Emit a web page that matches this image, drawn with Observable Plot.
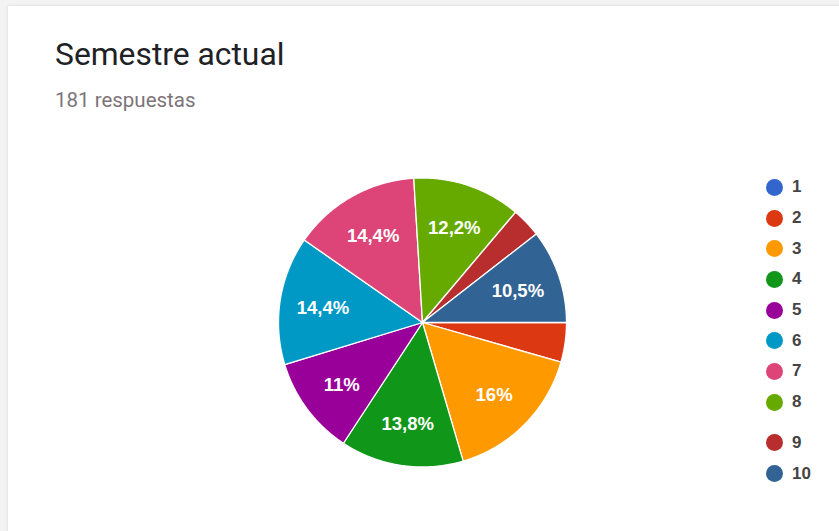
<!DOCTYPE html>
<html>
<head>
<meta charset="utf-8">
<script src="https://cdn.jsdelivr.net/npm/d3@7"></script>
<script src="https://cdn.jsdelivr.net/npm/@observablehq/plot@0.6"></script>
<style>
  html, body { margin: 0; padding: 0; }
  body { width: 839px; height: 531px; background: #f3f3f3; position: relative; overflow: hidden; font-family: Roboto, "Liberation Sans", Arial, sans-serif; }
  #card { position: absolute; left: 8px; top: 6px; width: 840px; height: 540px; background: #fff; box-shadow: 0 0 3px rgba(0,0,0,0.12); }
  #title { position: absolute; left: 55px; top: 34px; font-size: 31.8px; line-height: 40px; color: #202124; font-family: Roboto, sans-serif; }
  #sub { position: absolute; left: 55px; top: 88px; font-size: 20.5px; line-height: 24px; color: #7d7479; font-family: Roboto, sans-serif; }
  #chart { position: absolute; left: 0; top: 0; }
  #legend { position: absolute; left: 766px; top: 172px; font-family: "Liberation Sans", Arial, sans-serif; font-size: 17px; font-weight: bold; color: #444; }
  .item { display: flex; align-items: center; height: 30.7px; }
  .sw { width: 17px; height: 17px; border-radius: 50%; margin-right: 9px; }
</style>
</head>
<body>
<div id="card"></div>
<div id="chart"></div>
<div id="title">Semestre actual</div>
<div id="sub">181 respuestas</div>
<div id="legend"></div>
<script>
const categories = ["1","2","3","4","5","6","7","8","9","10"];
const counts = [0, 8, 29, 25, 20, 26, 26, 22, 6, 19];
const colors = ["#3366cc","#dc3912","#ff9900","#109618","#990099","#0099c6","#dd4477","#66aa00","#b82e2e","#316395"];
const percentLabels = ["", "", "16%", "13,8%", "11%", "14,4%", "14,4%", "12,2%", "", "10,5%"];

const data = categories.map((c, i) => ({key: c, value: counts[i], label: percentLabels[i]}));

// pie angles (clockwise from 12 o'clock), starting at 3 o'clock
const pie = d3.pie().value(d => d.value).sort(null).startAngle(Math.PI / 2).endAngle(Math.PI / 2 + 2 * Math.PI);
const arcs = pie(data).filter(a => a.data.value > 0);

const pts = [];
for (const a of arcs) {
  const n = Math.max(2, Math.ceil((a.endAngle - a.startAngle) / 0.01));
  pts.push({key: a.data.key, x: 0, y: 0});
  for (let k = 0; k <= n; k++) {
    const t = a.startAngle + (a.endAngle - a.startAngle) * k / n;
    pts.push({key: a.data.key, x: Math.sin(t), y: Math.cos(t)});
  }
  pts.push({key: a.data.key, x: 0, y: 0});
}
const labelPts = arcs.filter(a => a.data.label).map(a => {
  const m = (a.startAngle + a.endAngle) / 2;
  return {label: a.data.label, x: 0.7 * Math.sin(m), y: 0.7 * Math.cos(m)};
});

const chart = Plot.plot({
  width: 839,
  height: 531,
  margin: 0,
  x: {domain: [-1, 1], range: [278, 566], axis: null},
  y: {domain: [-1, 1], range: [466.5, 177.5], axis: null},
  color: {domain: categories, range: colors},
  style: {background: "transparent", overflow: "visible"},
  marks: [
    Plot.line(pts, {x: "x", y: "y", z: "key", fill: "key", stroke: "#fff", strokeWidth: 1.3, curve: "linear"}),
    Plot.text(labelPts, {x: "x", y: "y", dy: 1.5, text: "label", fill: "#fff", fontSize: 18.5, fontWeight: "bold", fontFamily: "Liberation Sans, Arial, sans-serif"})
  ]
});
document.getElementById("chart").appendChild(chart);

const legend = document.getElementById("legend");
categories.forEach((c, i) => {
  const it = document.createElement("div");
  it.className = "item";
  if (c === "9") it.style.marginTop = "10px";
  const sw = document.createElement("div");
  sw.className = "sw";
  sw.style.background = colors[i];
  const tx = document.createElement("span");
  tx.textContent = c;
  it.appendChild(sw);
  it.appendChild(tx);
  legend.appendChild(it);
});
</script>
</body>
</html>
